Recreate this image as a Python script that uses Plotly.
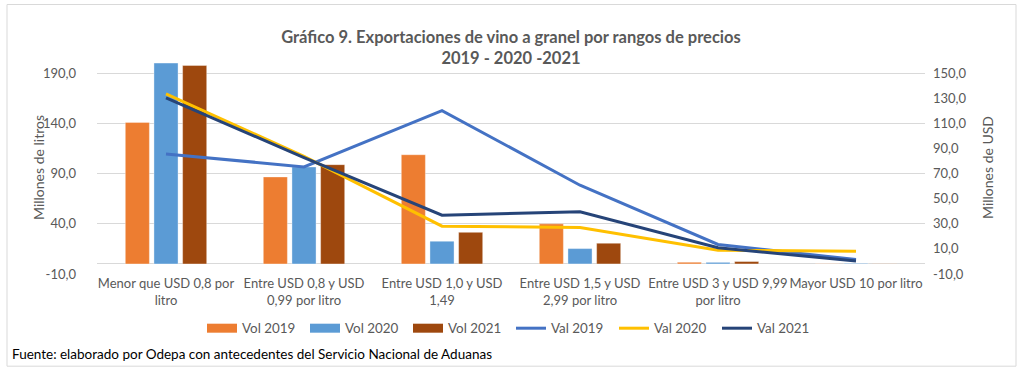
import plotly.graph_objects as go

categories = [
    "Menor que USD 0,8 por<br>litro",
    "Entre USD 0,8 y USD<br>0,99 por litro",
    "Entre USD 1,0 y USD<br>1,49",
    "Entre USD 1,5 y USD<br>2,99 por litro",
    "Entre USD 3 y USD 9,99<br>por litro",
    "Mayor USD 10 por litro",
]

vol_2019 = [140.9, 86.6, 108.7, 39.9, 1.7, 0.2]
vol_2020 = [199.9, 96.5, 22.6, 15.3, 1.6, 0.6]
vol_2021 = [197.5, 98.8, 31.5, 20.6, 2.4, 0.2]

val_2019 = [85.6, 75.3, 120.1, 60.7, 13.5, 1.5]
val_2020 = [133.4, 83.7, 28.1, 27.0, 9.0, 8.2]
val_2021 = [130.2, 82.7, 36.8, 39.5, 10.9, 0.3]

left_ticks = [-10, 40, 90, 140, 190]
left_ticktext = ["-10,0", "40,0", "90,0", "140,0", "190,0"]
right_ticks = [-10, 10, 30, 50, 70, 90, 110, 130, 150]
right_ticktext = ["-10,0", "10,0", "30,0", "50,0", "70,0", "90,0", "110,0", "130,0", "150,0"]

FONT = "Lato"
GREY = "#595959"

fig = go.Figure()
bar_series = [("Vol 2019", vol_2019, "#ED7D31"),
              ("Vol 2020", vol_2020, "#5B9BD5"),
              ("Vol 2021", vol_2021, "#9E480E")]
for name, vals, col in bar_series:
    fig.add_trace(go.Bar(x=categories, y=vals, name=name, marker_color=col,
                         marker_line=dict(color="rgba(255,255,255,0.6)", width=0.6),
                         yaxis="y", cliponaxis=False, showlegend=False, legendgroup=name))
# legend entries styled like Excel's wide bar swatches
for name, vals, col in bar_series:
    fig.add_trace(go.Scatter(x=[None], y=[None], name=name, mode="lines",
                             line=dict(color=col, width=9), yaxis="y", legendgroup=name))

for name, vals, col in [("Val 2019", val_2019, "#4472C4"),
                        ("Val 2020", val_2020, "#FFC000"),
                        ("Val 2021", val_2021, "#264478")]:
    fig.add_trace(go.Scatter(x=categories, y=vals, name=name, mode="lines",
                             line=dict(color=col, width=3), yaxis="y2"))

fig.update_layout(
    width=1024, height=378,
    margin=dict(l=97, r=99, t=62, b=104),
    paper_bgcolor="white", plot_bgcolor="white",
    font=dict(family=FONT, size=13, color=GREY),
    barmode="group", bargap=0.377, bargroupgap=0.16,
    title=dict(text="<b>Gráfico 9. Exportaciones de vino a granel por rangos de precios<br>2019 - 2020 -2021</b>",
               x=0.5, xref="paper", xanchor="center",
               y=1 - 42.5 / 378, yref="container", yanchor="middle",
               font=dict(family=FONT, size=16.5, color=GREY)),
    xaxis=dict(showgrid=False, showline=False, ticks="", tickfont=dict(size=13, color=GREY),
               tickangle=0),
    yaxis=dict(range=[-10, 201], tickvals=left_ticks, ticktext=left_ticktext,
               showgrid=True, gridcolor="#D9D9D9", gridwidth=1,
               zeroline=True, zerolinecolor="#D9D9D9", zerolinewidth=1,
               ticks="", ticklabelstandoff=20,
               tickfont=dict(size=13, color=GREY), showline=False),
    yaxis2=dict(range=[-10, 158.8], tickvals=right_ticks, ticktext=right_ticktext,
                overlaying="y", side="right", showgrid=False, zeroline=False,
                ticks="", ticklabelstandoff=7,
                tickfont=dict(size=13, color=GREY), showline=False),
    legend=dict(orientation="h", x=0.5, xanchor="center", y=-0.257, yanchor="middle",
                font=dict(size=13.4, color=GREY), traceorder="normal",
                entrywidth=58, bgcolor="rgba(0,0,0,0)"),
    showlegend=True,
)

fig.add_annotation(text="Millones de litros", xref="paper", yref="paper",
                   x=(38 - 97) / 828, xanchor="center", y=0.5, yanchor="middle",
                   textangle=-90, showarrow=False,
                   font=dict(family=FONT, size=14, color=GREY))
fig.add_annotation(text="Millones de USD", xref="paper", yref="paper",
                   x=(987 - 97) / 828, xanchor="center", y=0.5, yanchor="middle",
                   textangle=-90, showarrow=False,
                   font=dict(family=FONT, size=14, color=GREY))
fig.add_annotation(text="Fuente: elaborado por Odepa con antecedentes del Servicio Nacional de Aduanas",
                   xref="paper", yref="paper", x=(10 - 97) / 828, xanchor="left",
                   y=(274.5 - 354) / 212, yanchor="middle", showarrow=False,
                   font=dict(family=FONT, size=13.5, color="#000000"))
fig.add_shape(type="rect", xref="paper", yref="paper",
              x0=(7 - 97) / 828, x1=(1016 - 97) / 828,
              y0=(274.5 - 366.7) / 212, y1=(274.5 - 5) / 212,
              line=dict(color="#D9D9D9", width=1), fillcolor="rgba(0,0,0,0)", layer="below")

fig.write_html("out.html", config={"displayModeBar": False},
               post_script="document.body.style.margin='0';")
